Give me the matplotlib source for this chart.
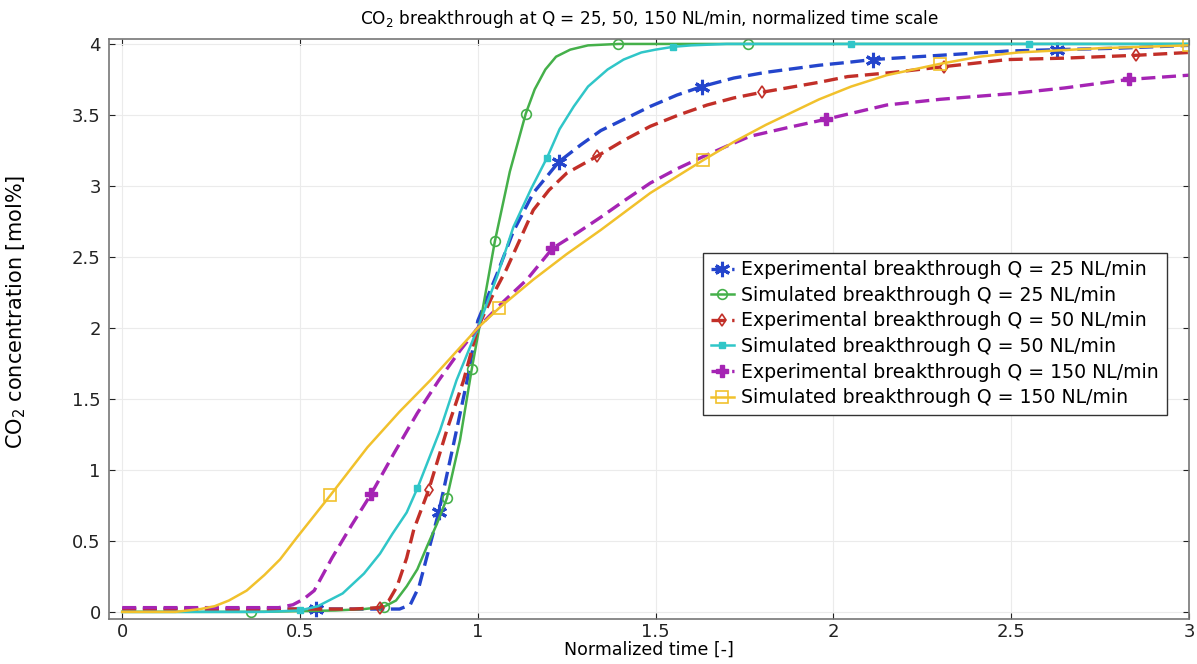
import matplotlib
matplotlib.use('Agg')
import matplotlib.pyplot as plt

# Experimental breakthrough Q = 25 NL/min
exp25_t = [0, 0.3, 0.546, 0.7, 0.78, 0.81, 0.835, 0.857, 0.89, 0.93, 0.97, 1.0, 1.054, 1.10,
           1.156, 1.228, 1.29, 1.346, 1.42, 1.485, 1.56, 1.63, 1.72, 1.81, 1.96, 2.04, 2.11,
           2.3, 2.49, 2.63, 2.8, 3.0]
exp25_c = [0.02, 0.02, 0.02, 0.02, 0.02, 0.05, 0.18, 0.39, 0.70, 1.16, 1.63, 2.05, 2.38, 2.68,
           2.95, 3.17, 3.29, 3.39, 3.48, 3.56, 3.64, 3.70, 3.76, 3.80, 3.85, 3.87, 3.89,
           3.92, 3.95, 3.96, 3.97, 3.99]
exp25_mk = [2, 8, 15, 21, 26, 29]

# Simulated breakthrough Q = 25 NL/min
sim25_t = [0, 0.2, 0.363, 0.5, 0.6, 0.68, 0.735, 0.77, 0.80, 0.83, 0.857, 0.885, 0.913, 0.95,
           0.983, 1.015, 1.048, 1.09, 1.135, 1.16, 1.19, 1.22, 1.26, 1.31, 1.395, 1.5, 1.76,
           2.2, 2.6, 3.0]
sim25_c = [0, 0, 0, 0.005, 0.01, 0.02, 0.035, 0.08, 0.18, 0.30, 0.46, 0.62, 0.80, 1.21,
           1.71, 2.15, 2.61, 3.10, 3.51, 3.68, 3.82, 3.91, 3.96, 3.99, 4.0, 4.0, 4.0,
           4.0, 4.0, 4.0]
sim25_mk = [2, 6, 12, 14, 16, 18, 24, 26]

# Experimental breakthrough Q = 50 NL/min
exp50_t = [0, 0.3, 0.5, 0.65, 0.725, 0.75, 0.773, 0.80, 0.82, 0.862, 0.913, 0.96, 1.0, 1.04,
           1.08, 1.12, 1.156, 1.2, 1.25, 1.336, 1.41, 1.485, 1.565, 1.645, 1.72, 1.80, 1.96,
           2.04, 2.17, 2.31, 2.49, 2.65, 2.85, 3.0]
exp50_c = [0.02, 0.02, 0.02, 0.02, 0.03, 0.08, 0.18, 0.38, 0.58, 0.86, 1.28, 1.63, 2.0, 2.22,
           2.41, 2.63, 2.83, 2.97, 3.09, 3.21, 3.32, 3.42, 3.50, 3.57, 3.62, 3.66, 3.73,
           3.77, 3.80, 3.84, 3.89, 3.90, 3.92, 3.94]
exp50_mk = [4, 9, 19, 25, 29, 32]

# Simulated breakthrough Q = 50 NL/min
sim50_t = [0, 0.2, 0.4, 0.5, 0.55, 0.62, 0.68, 0.725, 0.76, 0.80, 0.83, 0.894, 0.94, 1.0,
           1.054, 1.10, 1.15, 1.195, 1.23, 1.27, 1.31, 1.365, 1.41, 1.46, 1.50, 1.55, 1.6,
           1.7, 2.05, 2.55, 3.0]
sim50_c = [0, 0, 0, 0.01, 0.04, 0.13, 0.27, 0.41, 0.55, 0.70, 0.87, 1.28, 1.63, 2.0,
           2.36, 2.71, 2.98, 3.20, 3.40, 3.56, 3.70, 3.82, 3.89, 3.94, 3.96, 3.98, 3.99,
           4.0, 4.0, 4.0, 4.0]
sim50_mk = [3, 10, 17, 25, 28, 29]

# Experimental breakthrough Q = 150 NL/min
exp150_t = [0, 0.2, 0.44, 0.48, 0.51, 0.54, 0.59, 0.645, 0.70, 0.765, 0.83, 0.89, 0.95, 1.0,
            1.07, 1.138, 1.21, 1.28, 1.346, 1.42, 1.485, 1.56, 1.628, 1.70, 1.766, 1.87,
            1.98, 2.15, 2.3, 2.5, 2.65, 2.83, 3.0]
exp150_c = [0.03, 0.03, 0.03, 0.05, 0.09, 0.15, 0.38, 0.61, 0.83, 1.12, 1.40, 1.63, 1.84, 2.0,
            2.18, 2.34, 2.56, 2.67, 2.78, 2.91, 3.02, 3.12, 3.20, 3.28, 3.35, 3.41,
            3.47, 3.57, 3.61, 3.65, 3.69, 3.75, 3.78]
exp150_mk = [8, 16, 26, 31]

# Simulated breakthrough Q = 150 NL/min
sim150_t = [0, 0.1, 0.15, 0.22, 0.26, 0.30, 0.35, 0.40, 0.444, 0.49, 0.585, 0.69, 0.78, 0.866,
            1.0, 1.06, 1.156, 1.25, 1.346, 1.485, 1.633, 1.72, 1.81, 1.96, 2.05, 2.15, 2.30,
            2.41, 2.52, 2.75, 3.0]
sim150_c = [0, 0, 0, 0.02, 0.04, 0.08, 0.15, 0.26, 0.37, 0.52, 0.82, 1.16, 1.41, 1.63,
            2.0, 2.14, 2.34, 2.52, 2.69, 2.95, 3.18, 3.31, 3.43, 3.61, 3.70, 3.78, 3.86,
            3.91, 3.94, 3.97, 3.99]
sim150_mk = [10, 15, 20, 26, 30]

x_ticks = [0, 0.5, 1, 1.5, 2, 2.5, 3]
x_ticklabels = ['0', '0.5', '1', '1.5', '2', '2.5', '3']
y_ticks = [0, 0.5, 1, 1.5, 2, 2.5, 3, 3.5, 4]
y_ticklabels = ['0', '0.5', '1', '1.5', '2', '2.5', '3', '3.5', '4']


def main():
    fig = plt.figure(figsize=(11.97, 6.64), dpi=100)
    ax = fig.add_axes([0.0911, 0.0678, 0.9022, 0.8735])

    dash = (4.2, 2.0)
    ax.plot(exp25_t, exp25_c, color='#2445cc', lw=2.4, dashes=dash, marker=(6, 2, 0), ms=11,
            mew=2.2, markevery=exp25_mk, label='Experimental breakthrough Q = 25 NL/min')
    ax.plot(sim25_t, sim25_c, color='#45b04a', lw=1.8, marker='o', ms=7, mfc='none', mew=1.2,
            markevery=sim25_mk, label='Simulated breakthrough Q = 25 NL/min')
    ax.plot(exp50_t, exp50_c, color='#c22f28', lw=2.4, dashes=dash, marker='d', ms=6, mfc='none',
            mew=1.2, markevery=exp50_mk, label='Experimental breakthrough Q = 50 NL/min')
    ax.plot(sim50_t, sim50_c, color='#30c6c8', lw=1.8, marker='s', ms=5,
            markevery=sim50_mk, label='Simulated breakthrough Q = 50 NL/min')
    ax.plot(exp150_t, exp150_c, color='#a524b4', lw=2.4, dashes=dash, marker='P', ms=9,
            markevery=exp150_mk, label='Experimental breakthrough Q = 150 NL/min')
    ax.plot(sim150_t, sim150_c, color='#f1c12c', lw=1.8, marker='s', ms=8, mfc='none', mew=1.2,
            markevery=sim150_mk, label='Simulated breakthrough Q = 150 NL/min')

    ax.set_xlim(-0.037, 3.0)
    ax.set_ylim(-0.05, 4.035)
    ax.set_xticks(x_ticks)
    ax.set_xticklabels(x_ticklabels)
    ax.set_yticks(y_ticks)
    ax.set_yticklabels(y_ticklabels)
    ax.tick_params(direction='in', length=4, labelsize=13, colors='#222222',
                   top=True, right=True)
    ax.tick_params(axis='x', pad=3)
    ax.tick_params(axis='y', pad=6)
    for s in ax.spines.values():
        s.set_color('#777777')
        s.set_linewidth(1.2)
    ax.grid(True, color='#ebebeb', lw=0.8)
    ax.set_axisbelow(True)

    ax.set_title('CO$_2$ breakthrough at Q = 25, 50, 150 NL/min, normalized time scale',
                 fontsize=12.2, pad=11)
    ax.set_xlabel('Normalized time [-]', fontsize=12.5, labelpad=0)
    ax.set_ylabel('CO$_2$ concentration [mol%]', fontsize=15)
    ax.yaxis.set_label_coords(-0.075, 0.53)

    leg = ax.legend(loc='upper right', bbox_to_anchor=(0.988, 0.648), fontsize=13.6,
                    handlelength=1.2, handletextpad=0.4, labelspacing=0.35,
                    borderpad=0.4, fancybox=False, framealpha=1, edgecolor='#333333')
    leg.get_frame().set_linewidth(1.0)

    plt.savefig('out.png', dpi=100)


if __name__ == "__main__":
    main()
